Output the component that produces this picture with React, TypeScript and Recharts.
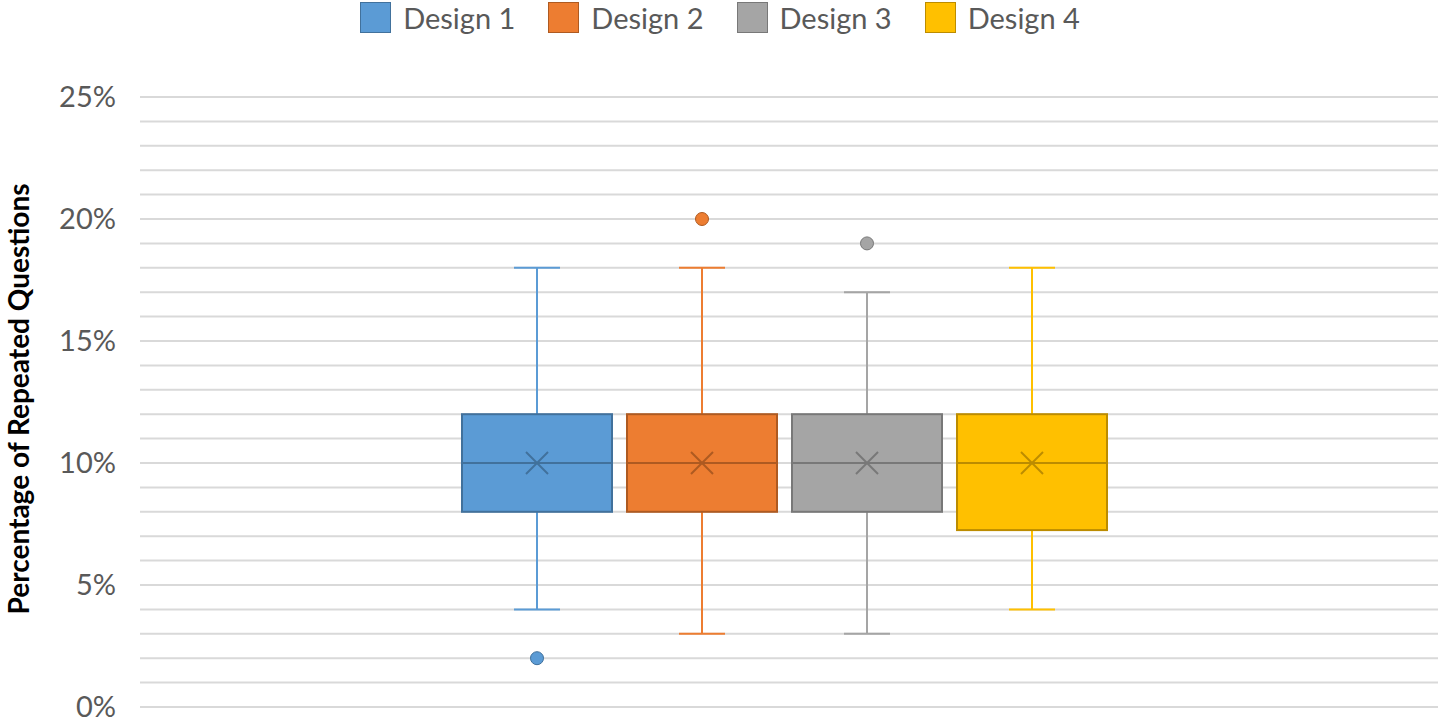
import React from 'react';
import { BarChart, Bar, XAxis, YAxis, CartesianGrid, Legend } from 'recharts';

const designs = ['Design 1', 'Design 2', 'Design 3', 'Design 4'];
const seriesKeys = ['d1', 'd2', 'd3', 'd4'];
const whiskerLow = [0.04, 0.03, 0.03, 0.04];
const q1 = [0.08, 0.08, 0.08, 0.0725];
const median = [0.1, 0.1, 0.1, 0.1];
const q3 = [0.12, 0.12, 0.12, 0.12];
const whiskerHigh = [0.18, 0.18, 0.17, 0.18];
const mean = [0.1, 0.1, 0.1, 0.1];
const outliers = [[0.02], [0.2], [0.19], []];
const yTicks = [0, 0.01, 0.02, 0.03, 0.04, 0.05, 0.06, 0.07, 0.08, 0.09, 0.1, 0.11, 0.12, 0.13, 0.14, 0.15, 0.16, 0.17, 0.18, 0.19, 0.2, 0.21, 0.22, 0.23, 0.24, 0.25];
const yLabels = ['0%', '5%', '10%', '15%', '20%', '25%'];

const fills = ['#5B9BD5', '#ED7D31', '#A5A5A5', '#FFC000'];
const edges = ['#41719C', '#AE5A21', '#787878', '#BC8C00'];

const FONT = 'Lato, "Open Sans", sans-serif';

const row: { [key: string]: string | number[] } = { name: 'all' };
seriesKeys.forEach((k, i) => { row[k] = [whiskerLow[i], whiskerHigh[i]]; });
const data = [row];

const makeBox = (i: number) => (props: any) => {
  const { x, y, width, height } = props;
  const lo = whiskerLow[i];
  const hi = whiskerHigh[i];
  const k = height / (hi - lo);
  const py = (v: number) => y + (hi - v) * k;
  const cx = x + width / 2;
  const cap = 23;
  const m = 11;
  const my = py(mean[i]);
  return (
    <g>
      <line x1={cx} x2={cx} y1={py(hi)} y2={py(q3[i])} stroke={fills[i]} strokeWidth={2} />
      <line x1={cx} x2={cx} y1={py(q1[i])} y2={py(lo)} stroke={fills[i]} strokeWidth={2} />
      <line x1={cx - cap} x2={cx + cap} y1={py(hi)} y2={py(hi)} stroke={fills[i]} strokeWidth={2} />
      <line x1={cx - cap} x2={cx + cap} y1={py(lo)} y2={py(lo)} stroke={fills[i]} strokeWidth={2} />
      <rect x={x} y={py(q3[i])} width={width} height={py(q1[i]) - py(q3[i])} fill={fills[i]} stroke={edges[i]} strokeWidth={2} />
      <line x1={x} x2={x + width} y1={py(median[i])} y2={py(median[i])} stroke={edges[i]} strokeWidth={2} />
      <line x1={cx - m} x2={cx + m} y1={my - m} y2={my + m} stroke={edges[i]} strokeWidth={2} />
      <line x1={cx - m} x2={cx + m} y1={my + m} y2={my - m} stroke={edges[i]} strokeWidth={2} />
      {outliers[i].map((v, j) => (
        <circle key={j} cx={cx} cy={py(v)} r={6.5} fill={fills[i]} stroke={edges[i]} strokeWidth={1} />
      ))}
    </g>
  );
};

const renderLegend = () => (
  <div style={{ display: 'flex', justifyContent: 'center', alignItems: 'center', fontFamily: FONT, fontSize: 29, color: '#595959' }}>
    {designs.map((d, i) => (
      <div key={d} style={{ display: 'flex', alignItems: 'center', marginLeft: i === 0 ? 0 : 33 }}>
        <div style={{ width: 29, height: 29, background: fills[i], border: `1px solid ${edges[i]}`, marginRight: 12 }} />
        <span>{d}</span>
      </div>
    ))}
  </div>
);

const renderYTitle = (props: any) => {
  const vb = props.viewBox;
  const cx = vb.x + 18;
  const cy = vb.y + vb.height / 2 - 3;
  return (
    <text x={cx} y={cy} transform={`rotate(-90, ${cx}, ${cy})`} textAnchor="middle" dominantBaseline="central" fontFamily={FONT} fontWeight={700} fontSize={28} fill="#000">
      Percentage of Repeated Questions
    </text>
  );
};

export default function App() {
  return (
    <div style={{ width: 1440, height: 721, background: '#fff' }}>
      <style>{`body{margin:0}`}</style>
      <BarChart width={1440} height={721} data={data} margin={{ top: 97, right: 2, bottom: 14, left: 0 }} barSize={150} barGap={15}>
        <CartesianGrid vertical={false} stroke="#D9D9D9" strokeWidth={2} />
        <XAxis dataKey="name" hide padding={{ left: 0, right: 10 }} />
        <YAxis
          width={140}
          domain={[0, 0.25]}
          ticks={yTicks}
          interval={0}
          axisLine={false}
          tickLine={false}
          tickMargin={18}
          tick={{ fill: '#595959', fontSize: 29, fontFamily: FONT }}
          tickFormatter={(v: number) => {
            const p = Math.round(v * 100);
            return p % 5 === 0 ? yLabels[p / 5] : '';
          }}
          label={{ content: renderYTitle }}
        />
        <Legend verticalAlign="middle" align="center" layout="horizontal" content={renderLegend} wrapperStyle={{ top: 0, left: 0, width: 1440, height: 36 }} />
        {seriesKeys.map((k, i) => (
          <Bar key={k} dataKey={k} name={designs[i]} fill={fills[i]} shape={makeBox(i)} isAnimationActive={false} />
        ))}
      </BarChart>
    </div>
  );
}
